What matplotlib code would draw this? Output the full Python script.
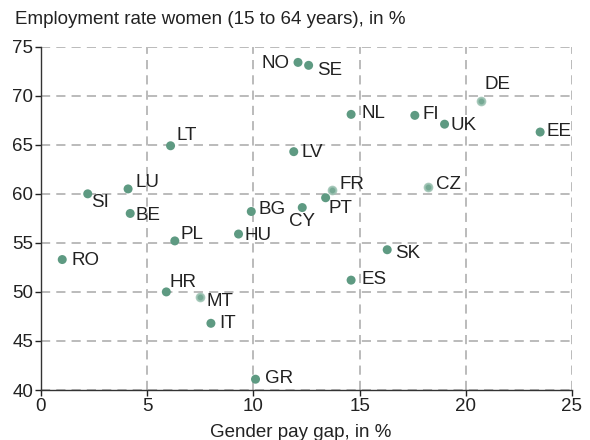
import matplotlib
matplotlib.use("Agg")
import matplotlib.pyplot as plt

plt.rcParams['font.family'] = ['Liberation Sans', 'DejaVu Sans']

countries = ["NO", "SE", "DE", "NL", "FI", "UK", "EE", "LV", "LT", "FR", "PT", "CY", "CZ",
             "SK", "ES", "SI", "LU", "BE", "PL", "BG", "HU", "RO", "HR", "MT", "IT", "GR"]
pay_gap = [12.1, 12.6, 20.7, 14.6, 17.6, 19.0, 23.5, 11.9, 6.1, 13.7, 13.4, 12.3, 18.2,
           16.3, 14.6, 2.2, 4.1, 4.2, 6.3, 9.9, 9.3, 1.0, 5.9, 7.5, 8.0, 10.1]
employment = [73.4, 73.1, 69.5, 68.1, 68.0, 67.1, 66.3, 64.3, 64.9, 60.4, 59.6, 58.6, 60.7,
              54.3, 51.2, 60.0, 60.5, 58.0, 55.2, 58.2, 55.9, 53.3, 50.0, 49.5, 46.8, 41.1]
highlight = ["DE", "FR", "CZ", "MT"]

x_ticks = [0, 5, 10, 15, 20, 25]
y_ticks = [40, 45, 50, 55, 60, 65, 70, 75]

# label offsets in pixels (dx, dy, ha)
offsets = {
    "NO": (-9, -1, "right"), "SE": (8, -5, "left"), "DE": (4, 16, "left"),
    "NL": (10, 1, "left"), "FI": (8, 1, "left"), "UK": (6, -1, "left"),
    "EE": (6, 1, "left"), "LV": (8, -1, "left"), "LT": (6, 10, "left"),
    "FR": (8, 5, "left"), "PT": (3, -11, "left"), "CY": (0, -14, "center"),
    "CZ": (8, 2, "left"), "SK": (8, -4, "left"), "ES": (10, 1, "left"),
    "SI": (3, -9, "left"), "LU": (7, 6, "left"), "BE": (5, -2, "left"),
    "PL": (6, 6, "left"), "BG": (7, 2, "left"), "HU": (6, -1, "left"),
    "RO": (9, -1, "left"), "HR": (3, 9, "left"), "MT": (6, -5, "left"),
    "IT": (8, 0, "left"), "GR": (9, 1, "left"),
}

dot = "#5e9a82"
light_edge = "#9cc2b2"
txt = "#222222"
fs = 13.5

fig = plt.figure(figsize=(5.9, 4.4), dpi=100)
ax = fig.add_axes([41/590, 1-390/440, (572-41)/590, (390-46.7)/440])

for c, x, y in zip(countries, pay_gap, employment):
    if c in highlight:
        ax.scatter([x], [y], s=30, color=dot, edgecolors=light_edge, linewidths=1.5, zorder=3, alpha=0.85)
    else:
        ax.scatter([x], [y], s=42, color=dot, edgecolors="none", zorder=3)
    dx, dy, ha = offsets[c]
    ax.annotate(c, (x, y), xytext=(dx, dy), textcoords="offset pixels",
                ha=ha, va="center", fontsize=fs, color=txt, zorder=4)

ax.set_xlim(0, 25)
ax.set_ylim(40, 75)
ax.set_xticks(x_ticks)
ax.set_yticks(y_ticks)
ax.tick_params(axis="both", labelsize=fs, colors=txt, length=4, width=1, pad=1.5)
ax.grid(True, color="#a8a8a8", linestyle=(0, (6, 4)), linewidth=1.1)
ax.set_axisbelow(True)
for s in ["top", "right"]:
    ax.spines[s].set_visible(False)
for s in ["left", "bottom"]:
    ax.spines[s].set_color("#333333")
    ax.spines[s].set_linewidth(1.0)
    ax.spines[s].set_zorder(5)

fig.text(15/590, 1-20/440, "Employment rate women (15 to 64 years), in %", fontsize=fs,
         color=txt, ha="left", va="center")
fig.text(301/590, 1-432/440, "Gender pay gap, in %", fontsize=fs, color=txt,
         ha="center", va="center")

fig.savefig("out.png", dpi=100)
